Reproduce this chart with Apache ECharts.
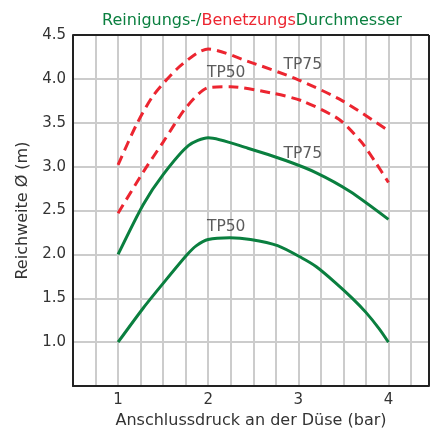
<!DOCTYPE html>
<html>
<head>
<meta charset="utf-8">
<script src="https://cdn.jsdelivr.net/npm/echarts@6/dist/echarts.min.js"></script>
<style>
  html, body { margin: 0; padding: 0; background: #fff; }
  #chart { width: 436px; height: 434px; }
</style>
</head>
<body>
<div id="chart"></div>
<script>
// Druck in bar, Reichweite in m
const greenTP50X = [1.0, 1.28, 1.5, 1.76, 1.87, 2.0, 2.24, 2.47, 2.77, 3.04, 3.2, 3.41, 3.6, 3.75, 3.9, 4.0]
const greenTP50Y = [1.0, 1.39, 1.67, 1.99, 2.1, 2.17, 2.19, 2.17, 2.1, 1.96, 1.86, 1.68, 1.5, 1.34, 1.15, 1.0]

const greenTP75X = [1.0, 1.28, 1.5, 1.78, 2.0, 2.44, 2.86, 3.2, 3.57, 4.0]
const greenTP75Y = [2.0, 2.57, 2.91, 3.24, 3.33, 3.21, 3.07, 2.93, 2.72, 2.4]

const redTP50X = [1.0, 1.28, 1.5, 1.76, 2.0, 2.25, 2.7, 3.04, 3.45, 3.7, 3.85, 4.0]
const redTP50Y = [2.47, 2.94, 3.28, 3.68, 3.9, 3.91, 3.84, 3.75, 3.54, 3.28, 3.06, 2.82]

const redTP75X = [1.0, 1.2, 1.39, 1.65, 1.87, 2.0, 2.44, 3.0, 3.49, 4.0]
const redTP75Y = [3.02, 3.47, 3.81, 4.11, 4.29, 4.34, 4.2, 3.99, 3.75, 3.41]

const labelText = ['TP75', 'TP50', 'TP75', 'TP50']
const labelX = [3.05, 2.2, 3.05, 2.2]
const labelY = [4.16, 4.07, 3.15, 2.31]

const X_MIN = 0.5, X_MAX = 4.45
const Y_MIN = 0.5, Y_MAX = 4.5

const GREEN = '#0a7f3f'
const RED = '#ec2530'
const FONT = 'DejaVu Sans'

const pairs = (xs, ys) => xs.map((x, i) => [x, ys[i]])

const chart = echarts.init(document.getElementById('chart'))

function curve(xs, ys, color, dashed) {
  return {
    type: 'line',
    data: pairs(xs, ys),
    smooth: 0.25,
    symbol: 'none',
    lineStyle: { color: color, width: 3, type: dashed ? [10, 6] : 'solid' },
    z: 3,
  }
}

chart.setOption({
  animation: false,
  backgroundColor: '#fff',
  title: {
    text: '{g|Reinigungs-/}{r|Benetzungs}{g|Durchmesser}',
    left: 247,
    textAlign: 'center',
    top: 8,
    textStyle: {
      rich: {
        g: { color: GREEN, fontSize: 16, fontFamily: FONT, fontWeight: 'normal' },
        r: { color: RED, fontSize: 16, fontFamily: FONT, fontWeight: 'normal' },
      },
    },
  },
  grid: { left: 73, right: 7, top: 35, bottom: 43 },
  xAxis: {
    type: 'value',
    min: X_MIN,
    max: X_MAX,
    interval: 0.25,
    name: 'Anschlussdruck an der Düse (bar)',
    nameLocation: 'middle',
    nameGap: 26,
    nameTextStyle: { color: '#333', fontSize: 16, fontFamily: FONT },
    axisLine: { onZero: false, lineStyle: { color: '#222', width: 2 } },
    axisTick: { show: false },
    axisLabel: {
      color: '#333', fontSize: 15, fontFamily: FONT, margin: 7,
      formatter: (v) => (Math.abs(v - Math.round(v)) < 1e-6 ? String(Math.round(v)) : ''),
    },
    splitLine: { showMinLine: false, showMaxLine: false, lineStyle: { color: '#cccccc', width: 2 } },
  },
  yAxis: {
    type: 'value',
    min: Y_MIN,
    max: Y_MAX,
    interval: 0.5,
    name: 'Reichweite Ø (m)',
    nameLocation: 'middle',
    nameGap: 39,
    nameTextStyle: { color: '#333', fontSize: 16, fontFamily: FONT },
    axisLine: { show: true, onZero: false, lineStyle: { color: '#222', width: 2 } },
    axisTick: { show: false },
    axisLabel: {
      color: '#333', fontSize: 15, fontFamily: FONT, margin: 7,
      formatter: (v) => (v < 0.9 ? '' : v.toFixed(1)),
    },
    splitLine: { showMinLine: false, showMaxLine: false, lineStyle: { color: '#cccccc', width: 2 } },
  },
  series: [
    curve(greenTP50X, greenTP50Y, GREEN, false),
    curve(greenTP75X, greenTP75Y, GREEN, false),
    curve(redTP50X, redTP50Y, RED, true),
    curve(redTP75X, redTP75Y, RED, true),
    {
      type: 'scatter',
      data: labelX.map((x, i) => ({ value: [x, labelY[i]], name: labelText[i] })),
      symbolSize: 0,
      silent: true,
      clip: false,
      label: {
        show: true,
        position: 'inside',
        formatter: (p) => p.name,
        color: '#333',
        fontSize: 15.5,
        fontFamily: FONT,
      },
      // oberer und rechter Rahmen
      markLine: {
        silent: true,
        symbol: 'none',
        label: { show: false },
        lineStyle: { color: '#222', width: 2, type: 'solid' },
        data: [{ yAxis: Y_MAX }, { xAxis: X_MAX }],
      },
      z: 4,
    },
  ],
})
</script>
</body>
</html>
